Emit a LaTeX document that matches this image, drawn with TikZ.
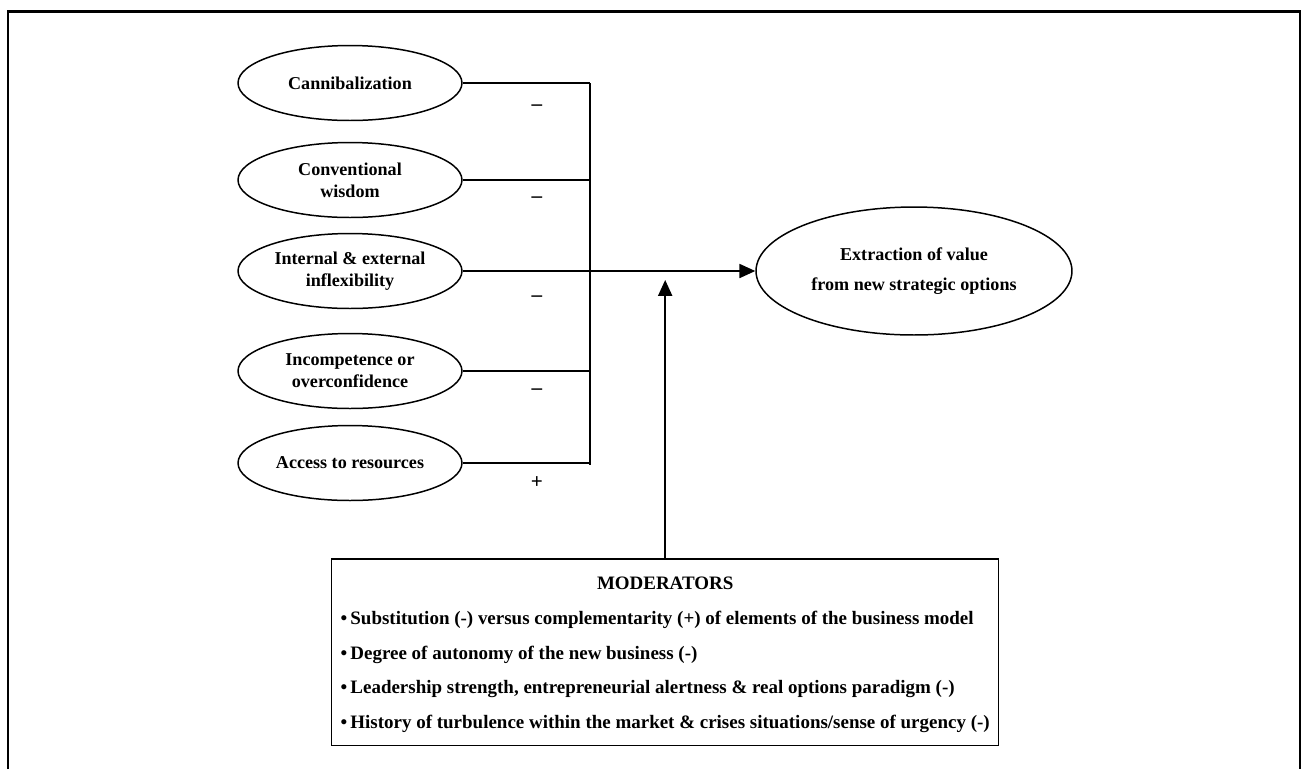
\documentclass[tikz,border=0pt]{standalone}
\usepackage{fontspec}
\setmainfont{Liberation Serif}
\usetikzlibrary{shapes.geometric,arrows.meta}

\begin{document}
\begin{tikzpicture}[x=0.02cm, y=-0.02cm,
	factor/.style={draw, ellipse, line width=0.85pt, minimum width=4.48cm, minimum height=1.5cm, inner sep=0pt, align=center, font=\fontsize{10.3}{12.5}\selectfont\bfseries},
	link/.style={line width=0.85pt},
	tip/.style={line width=0.85pt, -{Triangle[length=9pt, width=8pt]}},
	sign/.style={font=\fontsize{12}{14}\selectfont\bfseries}]
	\useasboundingbox (0,0) rectangle (1302,769);
	\draw[line width=1.4pt] (8,769) -- (8,11.5) -- (1300,11.5) -- (1300,769);
	\node[factor] (cann) at (350,83) {Cannibalization};
	\node[factor] (conv) at (350,180) {Conventional\\wisdom};
	\node[factor] (infl) at (350,271) {Internal \& external\\inflexibility};
	\node[factor] (comp) at (350,371) {Incompetence or\\overconfidence};
	\node[factor] (acc) at (350,463) {Access to resources};
	\node[factor, minimum width=6.32cm, minimum height=2.56cm, font=\fontsize{10.3}{17}\selectfont\bfseries] (value) at (914,271) {Extraction of value\\from new strategic options};
	\coordinate (bus) at (590,465);
	\draw[link] (cann) -- (cann -| bus);
	\draw[link] (conv) -- (conv -| bus);
	\draw[link] (comp) -- (comp -| bus);
	\draw[link] (acc) -- (acc -| bus);
	\draw[link] (cann -| bus) -- (bus);
	\draw[tip] (infl) -- (value);
	\node[sign] (s1) at (537,108) {--};
	\node[sign] (s2) at (537,200) {--};
	\node[sign] (s3) at (537,299) {--};
	\node[sign] (s4) at (537,392) {--};
	\node[sign] (s5) at (537,483) {+};
	\node[draw, line width=0.85pt, anchor=north west, minimum width=13.34cm, minimum height=3.68cm, font=\fontsize{10.8}{19.9}\selectfont\bfseries] (mod) at (331,558)
		{\begin{tabular}{@{}l@{}}
		\multicolumn{1}{@{}c@{}}{MODERATORS}\\
		\textbullet\,Substitution (-) versus complementarity (+) of elements of the business model\\
		\textbullet\,Degree of autonomy of the new business (-)\\
		\textbullet\,Leadership strength, entrepreneurial alertness \& real options paradigm (-)\\
		\textbullet\,History of turbulence within the market \& crises situations/sense of urgency (-)
		\end{tabular}};
	\coordinate (modtip) at (664,280);
	\draw[tip] (mod.north) -- (mod.north |- modtip);
\end{tikzpicture}
\end{document}
